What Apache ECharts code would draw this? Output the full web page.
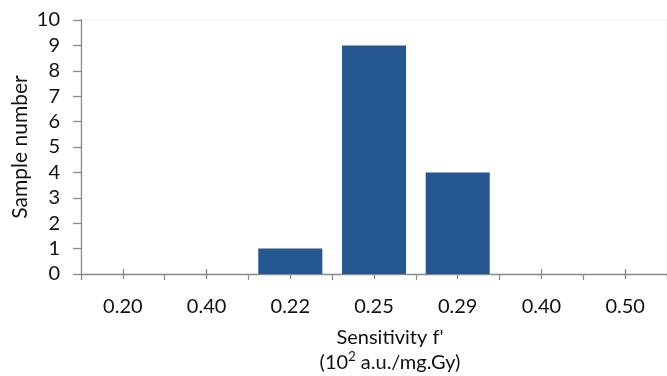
<!DOCTYPE html>
<html>
<head>
<meta charset="utf-8">
<script src="https://cdn.jsdelivr.net/npm/echarts@6/dist/echarts.min.js"></script>
<style>
html,body{margin:0;padding:0;background:#fff;}
#chart{width:667px;height:376px;}
</style>
</head>
<body>
<div id="chart"></div>
<script>
const categories = ['0.20', '0.40', '0.22', '0.25', '0.29', '0.40', '0.50'];
const sampleCounts = [0, 0, 1, 9, 4, 0, 0];
const yTicks = { min: 0, max: 10, interval: 1 };
const xTitle = "Sensitivity f'\n(10{sup|2} a.u./mg.Gy)";
const yTitle = 'Sample number';

const FONT = 'Lato';
const AXIS_COLOR = '#8a8a8a';
const TEXT_COLOR = '#111111';

const chart = echarts.init(document.getElementById('chart'), null, { renderer: 'canvas' });

const hiddenAxisBase = {
  type: 'category',
  data: categories,
  position: 'bottom',
  gridIndex: 0,
  axisLine: { show: false },
  axisLabel: { show: false },
  splitLine: { show: false }
};

chart.setOption({
  animation: false,
  backgroundColor: '#ffffff',
  grid: {
    left: 81, right: 0, top: 20, bottom: 102,
    containLabel: false,
    outerBoundsMode: 'none',
    show: true, borderColor: '#eef0f8', borderWidth: 1, backgroundColor: 'transparent'
  },
  xAxis: [
    {
      type: 'category',
      data: categories,
      position: 'bottom',
      axisLine: { show: true, lineStyle: { color: AXIS_COLOR, width: 1.3 } },
      axisTick: { show: true, alignWithLabel: false, length: 6, lineStyle: { color: AXIS_COLOR, width: 1.3 } },
      axisLabel: { fontFamily: FONT, fontSize: 20, color: TEXT_COLOR, margin: 23 },
      splitLine: { show: false },
      name: xTitle,
      nameLocation: 'middle',
      nameGap: 51,
      nameTextStyle: {
        fontFamily: FONT, fontSize: 20, color: TEXT_COLOR, lineHeight: 25, padding: [0, 0, 0, 32],
        rich: {
          sup: { fontFamily: FONT, fontSize: 13, color: TEXT_COLOR, lineHeight: 20, verticalAlign: 'top' }
        }
      }
    },
    Object.assign({}, hiddenAxisBase, {
      axisTick: { show: true, alignWithLabel: true, inside: true, length: 5, lineStyle: { color: AXIS_COLOR, width: 1.3 } }
    }),
    Object.assign({}, hiddenAxisBase, {
      axisTick: { show: true, alignWithLabel: true, inside: false, length: 5, lineStyle: { color: AXIS_COLOR, width: 1.3 } }
    })
  ],
  yAxis: {
    type: 'value',
    min: yTicks.min,
    max: yTicks.max,
    interval: yTicks.interval,
    axisLine: { show: true, lineStyle: { color: AXIS_COLOR, width: 1.3 } },
    axisTick: { show: true, length: 8, lineStyle: { color: AXIS_COLOR, width: 1.3 } },
    axisLabel: { fontFamily: FONT, fontSize: 20, color: TEXT_COLOR, margin: 21 },
    splitLine: { show: false },
    name: yTitle,
    nameLocation: 'middle',
    nameGap: 50,
    nameMoveOverlap: false,
    nameTextStyle: { fontFamily: FONT, fontSize: 21, color: TEXT_COLOR }
  },
  series: [{
    type: 'bar',
    data: sampleCounts,
    xAxisIndex: 0,
    barCategoryGap: '23.5%',
    itemStyle: { color: '#245690' }
  }]
});
</script>
</body>
</html>
